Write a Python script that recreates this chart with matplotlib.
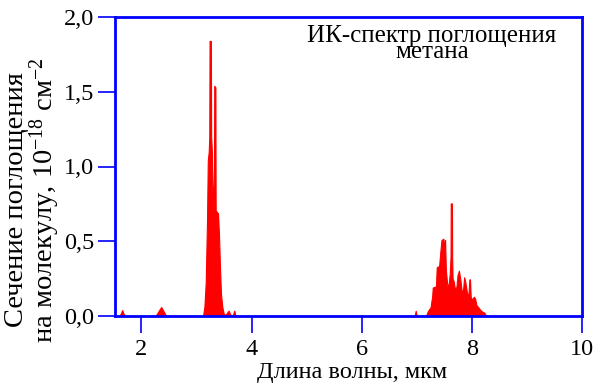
import numpy as np
import matplotlib.pyplot as plt

plt.rcParams['font.family'] = 'serif'
plt.rcParams['font.serif'] = ['Liberation Serif', 'DejaVu Serif']
plt.rcParams['mathtext.fontset'] = 'custom'
plt.rcParams['mathtext.rm'] = 'Liberation Serif'
plt.rcParams['mathtext.it'] = 'Liberation Serif:italic'

# полосы поглощения метана (длина волны, мкм / сечение, 10^-18 см^2)
wl_16 = [1.60, 1.63, 1.65, 1.67, 1.70]
s_16 = [0.0, 0.02, 0.04, 0.02, 0.0]

wl_23 = [2.25, 2.29, 2.33, 2.36, 2.39, 2.42, 2.45]
s_23 = [0.0, 0.02, 0.045, 0.06, 0.04, 0.02, 0.0]

wl_33 = [3.118, 3.143, 3.167, 3.191, 3.205, 3.222, 3.232, 3.237, 3.261, 3.266,
         3.281, 3.292, 3.310, 3.318, 3.322, 3.343, 3.347, 3.352, 3.362, 3.375,
         3.390, 3.408, 3.426, 3.444, 3.469, 3.493, 3.523, 3.553, 3.583, 3.614,
         3.656, 3.686, 3.710]
s_33 = [0.0, 0.06, 0.22, 0.64, 1.04, 1.10, 1.20, 1.84, 1.84, 1.20,
        1.09, 0.73, 0.87, 1.00, 1.54, 1.53, 0.80, 0.51, 0.70, 0.62,
        0.69, 0.55, 0.33, 0.15, 0.06, 0.018, 0.005, 0.022, 0.036, 0.009,
        0.0, 0.036, 0.0]

wl_70 = [6.96, 6.98, 7.00]
s_70 = [0.0, 0.035, 0.0]

wl_77 = [7.164, 7.206, 7.249, 7.279, 7.290, 7.327, 7.345, 7.362, 7.406, 7.425,
         7.448, 7.484, 7.500, 7.514, 7.528, 7.556, 7.581, 7.599, 7.613, 7.617,
         7.638, 7.642, 7.650, 7.671, 7.695, 7.720, 7.740, 7.765, 7.792, 7.816,
         7.840, 7.860, 7.880, 7.913, 7.937, 7.955, 7.966, 7.979, 8.009, 8.033,
         8.058, 8.082, 8.118, 8.154, 8.191, 8.227, 8.263]
s_77 = [0.0, 0.036, 0.058, 0.13, 0.19, 0.196, 0.17, 0.326, 0.335, 0.42,
        0.508, 0.517, 0.45, 0.508, 0.308, 0.196, 0.218, 0.285, 0.40, 0.753,
        0.753, 0.40, 0.252, 0.23, 0.174, 0.196, 0.274, 0.303, 0.241, 0.163,
        0.174, 0.259, 0.23, 0.152, 0.134, 0.245, 0.245, 0.129, 0.107, 0.129,
        0.118, 0.074, 0.058, 0.04, 0.029, 0.022, 0.0]

xticks = [2, 4, 6, 8, 10]
yticks = [0.0, 0.5, 1.0, 1.5, 2.0]
ytick_labels = ["0,0", "0,5", "1,0", "1,5", "2,0"]

wl = np.array(wl_16 + wl_23 + wl_33 + wl_70 + wl_77)
sigma = np.array(s_16 + s_23 + s_33 + s_70 + s_77)

blue = '#0000ff'

fig = plt.figure(figsize=(6, 3.92), dpi=100)
ax = fig.add_axes([115/600, 1 - 316/392, 467/600, 299/392])

ax.fill_between(wl, 0, sigma, color='red', linewidth=0.8, edgecolor='red')

ax.set_xlim(1.52, 10)
ax.set_ylim(0, 2.0)
ax.set_xticks(xticks)
ax.set_yticks(yticks)
ax.set_yticklabels(ytick_labels)

for sp in ax.spines.values():
    sp.set_color(blue)
    sp.set_linewidth(2)
    sp.set_zorder(5)

ax.tick_params(axis='both', direction='out', length=12.5, width=1.2,
               color=blue, labelsize=17.5, labelcolor='black')
ax.tick_params(axis='y', pad=2.5)
ax.tick_params(axis='x', pad=4)

fig.text(33/600, 1 - 200/392,
         "Сечение поглощения\nна молекулу, 10$^{-18}$ см$^{-2}$",
         rotation=90, ha='center', va='center', fontsize=20.5,
         multialignment='center', linespacing=0.95)
fig.text(352/600, 1 - 378/392, "Длина волны, мкм", ha='center',
         va='baseline', fontsize=17.5)

fig.text(432/600, 1 - 58/392, "ИК-спектр поглощения\nметана", ha='center',
         va='baseline', fontsize=18, multialignment='center',
         linespacing=0.66)

fig.savefig('out.png', dpi=100)
